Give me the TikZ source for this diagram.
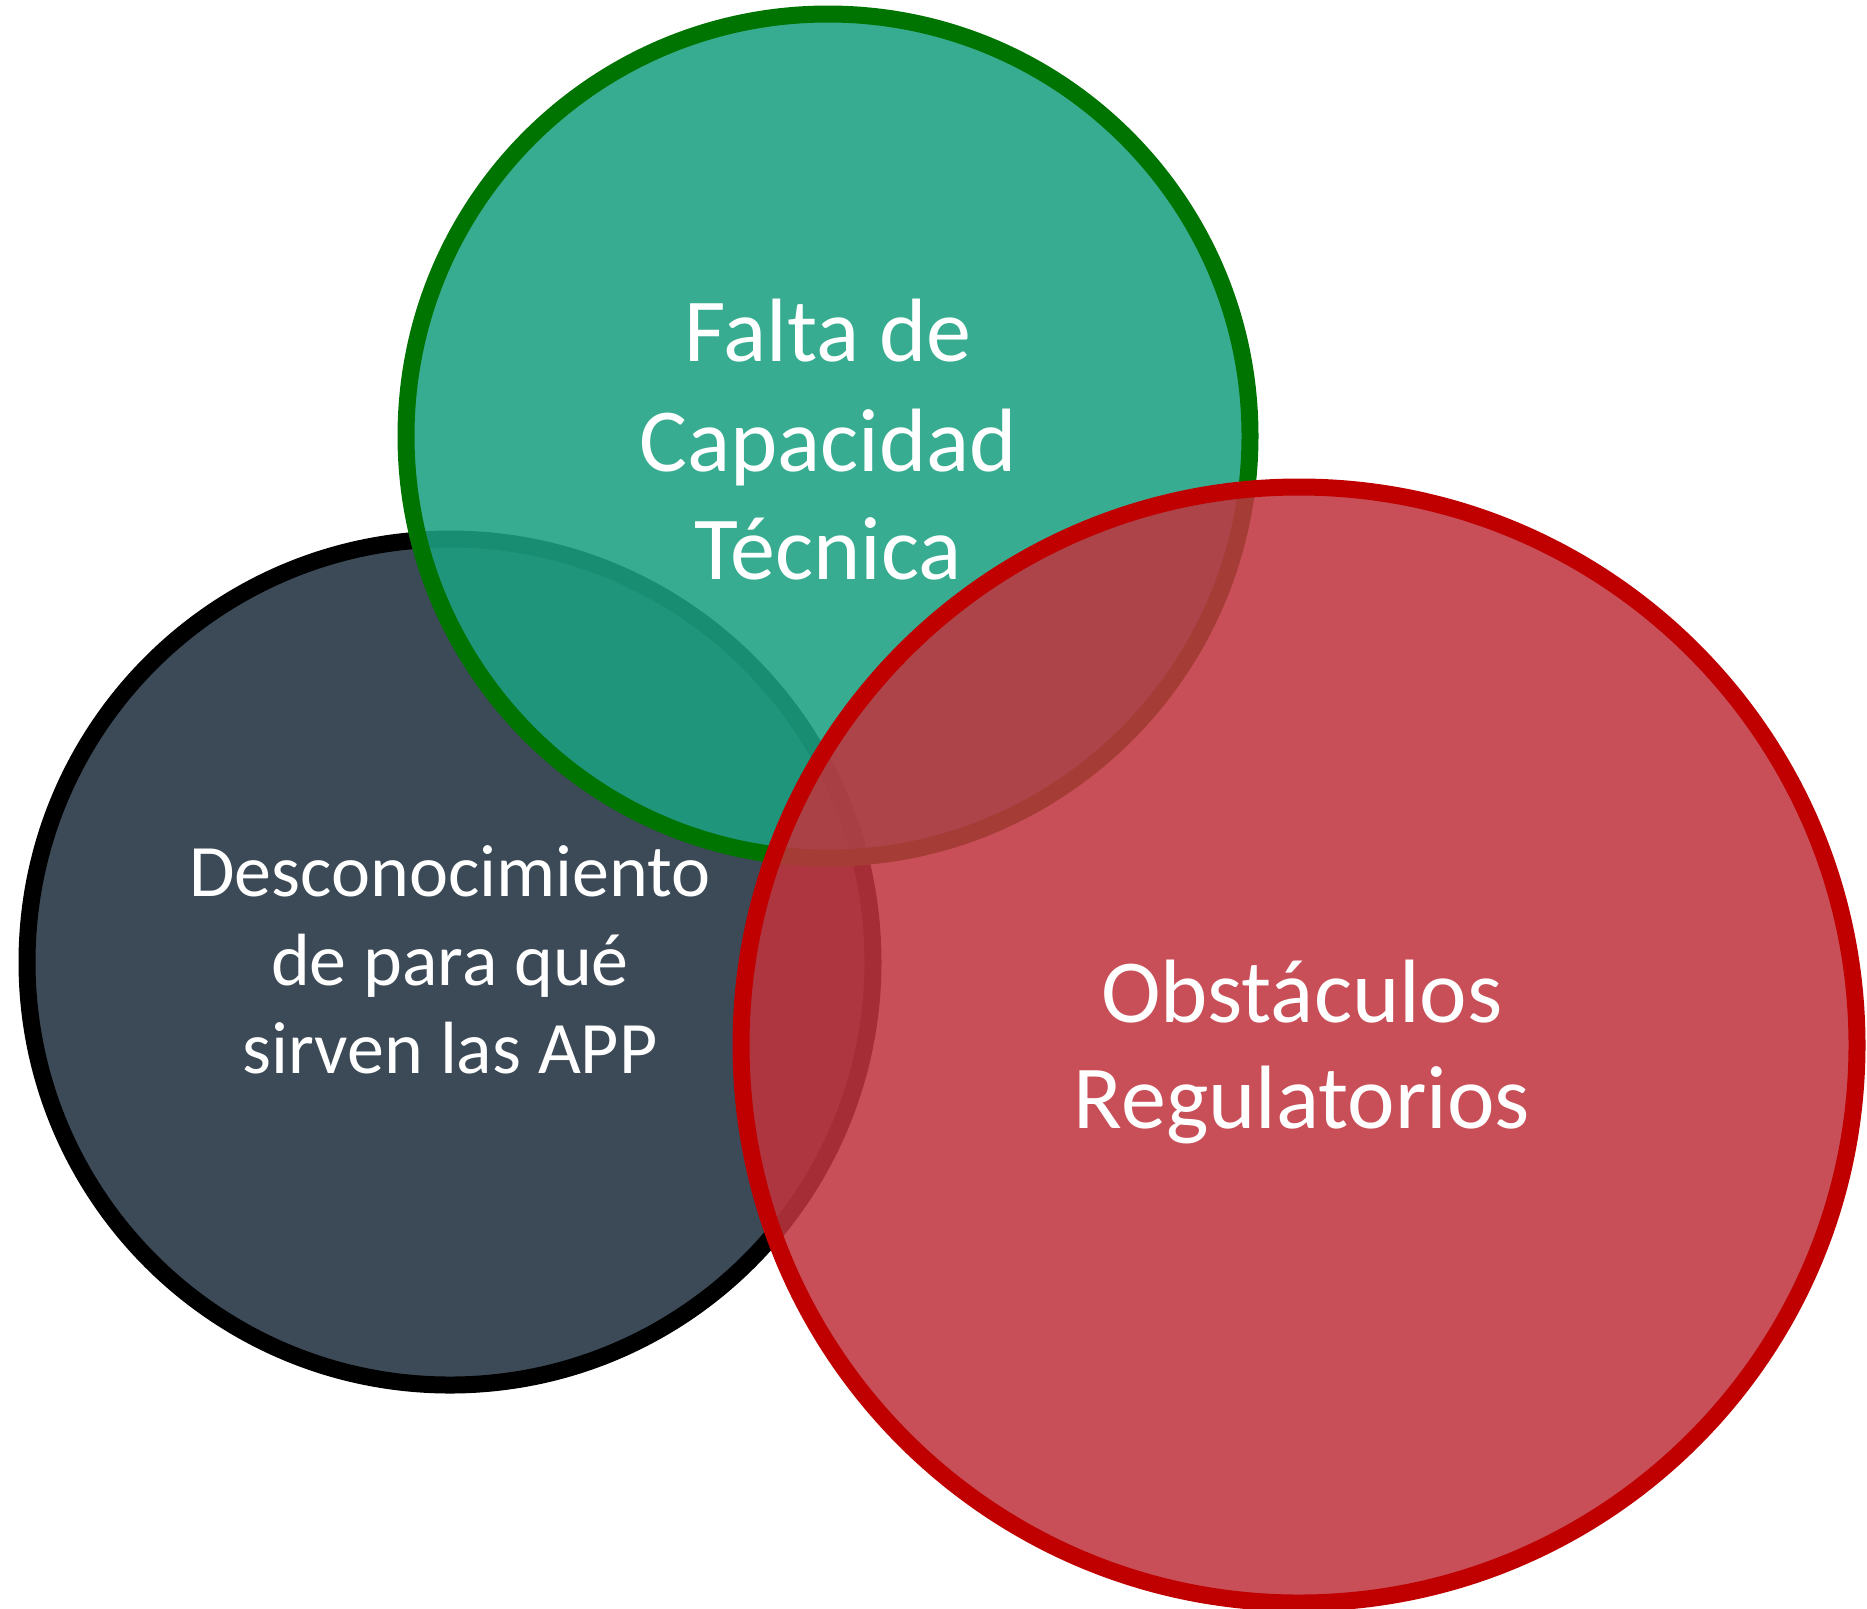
\documentclass[tikz,border=0pt]{standalone}
\usepackage{fontspec}
\setmainfont{Carlito}
\definecolor{darkfill}{RGB}{60,74,87}
\definecolor{greenfill}{RGB}{28,161,130}
\definecolor{greenline}{RGB}{0,116,0}
\definecolor{redfill}{RGB}{191,52,62}
\definecolor{redline}{RGB}{192,0,0}
\tikzset{
  ring/.style={line width=8.5pt},
  bigtxt/.style={anchor=base,text=white,inner sep=0pt,font=\fontsize{45pt}{55pt}\selectfont},
  smalltxt/.style={anchor=base,text=white,inner sep=0pt,font=\fontsize{37pt}{44pt}\selectfont}
}
\begin{document}
\begin{tikzpicture}[x=0.5pt,y=-0.5pt]
\useasboundingbox (0,0) rectangle (1867,1608);
\clip (0,0) rectangle (1867,1608);
\draw[ring,fill=darkfill,draw=black] (450,962) circle[radius=211.5pt];
\draw[ring,fill=greenfill,fill opacity=0.88,draw=greenline] (828,436) circle[radius=211pt];
\draw[ring,fill=redfill,fill opacity=0.865,draw=redline] (1299,1045) circle[radius=279pt];
\node[bigtxt] (g1) at (828,361) {Falta de};
\node[bigtxt] (g2) at (828,471) {Capacidad};
\node[bigtxt] (g3) at (828,579) {Técnica};
\node[smalltxt] (d1) at (450,896) {Desconocimiento};
\node[smalltxt] (d2) at (450,985) {de para qué};
\node[smalltxt] (d3) at (450,1073) {sirven las APP};
\node[bigtxt] (r1) at (1302,1022) {Obstáculos};
\node[bigtxt] (r2) at (1302,1128) {Regulatorios};
\end{tikzpicture}
\end{document}
